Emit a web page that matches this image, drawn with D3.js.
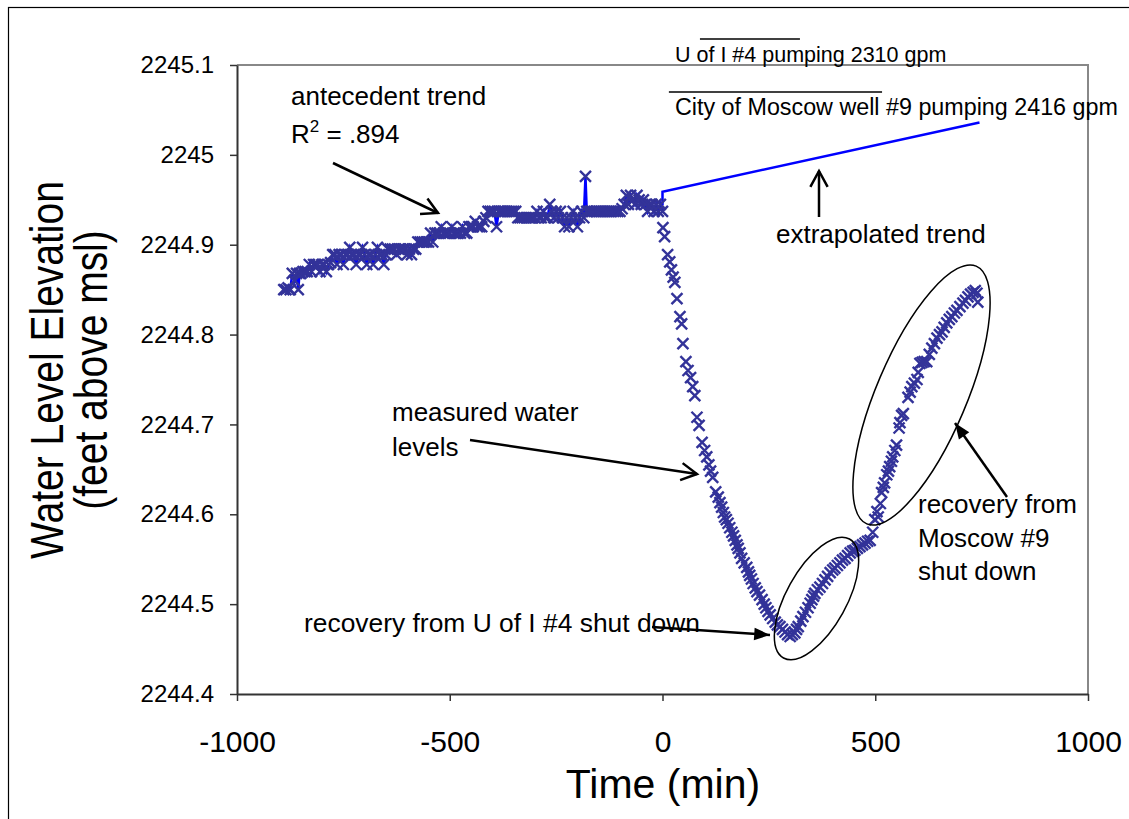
<!DOCTYPE html>
<html><head><meta charset="utf-8">
<script src="https://cdn.jsdelivr.net/npm/d3@7"></script>
<style>
body{margin:0;background:#fff}
svg{display:block}
text{font-family:"Liberation Sans",Arial,Helvetica,sans-serif;fill:#000}
</style>
</head><body>
<svg id="chart" width="1129" height="819"></svg>
<script>
// ---------- data ----------
const xTicks = [-1000, -500, 0, 500, 1000];
const xTickLabels = ["-1000", "-500", "0", "500", "1000"];
const yTicks = [2244.4, 2244.5, 2244.6, 2244.7, 2244.8, 2244.9, 2245.0, 2245.1];
const yTickLabels = ["2244.4", "2244.5", "2244.6", "2244.7", "2244.8", "2244.9", "2245", "2245.1"];

// measured water levels before pumping (time min, elevation ft) - connected by line
const antecedent = [
[-890,2244.850],[-885,2244.850],[-880,2244.852],[-875,2244.850],[-870,2244.868],[-865,2244.860],[-860,2244.868],[-856,2244.850],[-853,2244.868],[-850,2244.868],
[-845,2244.870],[-840,2244.870],[-835,2244.870],[-830,2244.878],[-825,2244.870],[-820,2244.878],[-815,2244.878],[-810,2244.878],[-805,2244.870],[-800,2244.878],
[-795,2244.878],[-790,2244.870],[-785,2244.878],[-780,2244.880],[-775,2244.889],[-770,2244.889],[-765,2244.878],[-760,2244.889],[-755,2244.889],[-750,2244.878],
[-745,2244.889],[-740,2244.889],[-735,2244.897],[-730,2244.889],[-725,2244.889],[-720,2244.878],[-715,2244.889],[-710,2244.889],[-705,2244.897],[-700,2244.889],
[-695,2244.878],[-690,2244.889],[-685,2244.889],[-680,2244.878],[-675,2244.889],[-670,2244.897],[-665,2244.889],[-660,2244.889],[-655,2244.878],[-650,2244.889],
[-645,2244.895],[-640,2244.895],[-635,2244.895],[-630,2244.895],[-625,2244.889],[-620,2244.895],[-615,2244.895],[-610,2244.895],[-605,2244.895],[-600,2244.889],
[-595,2244.895],[-590,2244.889],[-585,2244.895],[-580,2244.895],[-575,2244.903],[-570,2244.903],[-565,2244.903],[-560,2244.903],[-555,2244.903],[-550,2244.903],
[-545,2244.913],[-540,2244.903],[-535,2244.913],[-530,2244.913],[-525,2244.913],[-520,2244.920],[-515,2244.913],[-510,2244.913],[-505,2244.913],[-500,2244.913],
[-495,2244.920],[-490,2244.913],[-485,2244.913],[-480,2244.913],[-475,2244.913],[-470,2244.920],[-465,2244.913],[-460,2244.913],[-455,2244.920],[-450,2244.920],
[-445,2244.920],[-440,2244.926],[-435,2244.920],[-430,2244.920],[-425,2244.920],[-420,2244.926],[-415,2244.930],[-410,2244.937],[-405,2244.937],[-400,2244.937],
[-395,2244.937],[-390,2244.920],[-385,2244.937],[-380,2244.937],[-375,2244.937],[-370,2244.937],[-365,2244.937],[-360,2244.937],[-355,2244.937],[-350,2244.937],
[-345,2244.937],[-340,2244.930],[-335,2244.930],[-330,2244.930],[-325,2244.930],[-320,2244.930],[-315,2244.930],[-310,2244.930],[-305,2244.930],[-300,2244.930],
[-295,2244.937],[-290,2244.930],[-285,2244.930],[-280,2244.937],[-275,2244.930],[-270,2244.930],[-265,2244.945],[-260,2244.937],[-255,2244.930],[-250,2244.937],
[-245,2244.930],[-240,2244.937],[-235,2244.930],[-230,2244.920],[-225,2244.930],[-220,2244.920],[-215,2244.930],[-210,2244.937],[-205,2244.930],[-200,2244.920],
[-195,2244.930],[-190,2244.937],[-185,2244.930],[-181,2244.976],[-178,2244.937],[-175,2244.937],[-170,2244.937],[-165,2244.937],[-160,2244.937],[-155,2244.937],
[-150,2244.937],[-145,2244.937],[-140,2244.937],[-135,2244.937],[-130,2244.937],[-125,2244.937],[-120,2244.937],[-115,2244.937],[-110,2244.937],[-105,2244.937],
[-100,2244.937],[-95,2244.940],[-90,2244.945],[-85,2244.955],[-80,2244.945],[-75,2244.955],[-70,2244.950],[-65,2244.945],[-60,2244.955],[-55,2244.950],
[-50,2244.945],[-45,2244.950],[-40,2244.945],[-35,2244.937],[-30,2244.945],[-25,2244.945],[-20,2244.937],[-15,2244.945],[-10,2244.937],[-5,2244.945],[0,2244.937]
];

// measured water levels during pumping and recovery (markers only)
const pumping = [
[1,2244.919],[5,2244.909],[12,2244.889],[17,2244.881],[21,2244.872],[25,2244.864],[29,2244.858],[34,2244.840],[41,2244.820],[45,2244.812],
[48,2244.790],[55,2244.770],[60,2244.760],[66,2244.752],[71,2244.742],[76,2244.732],[81,2244.708],[86,2244.699],[93,2244.680],[99,2244.671],
[104,2244.664],[109,2244.655],[113,2244.648],[118,2244.641],[125,2244.625],[131,2244.619],[135,2244.613],[139,2244.608],[143,2244.602],[146,2244.597],
[150,2244.594],[154,2244.590],[158,2244.585],[163,2244.580],[167,2244.576],[171,2244.571],[175,2244.566],[178,2244.562],[182,2244.557],[186,2244.551],
[192,2244.546],[198,2244.541],[202,2244.536],[205,2244.532],[209,2244.528],[213,2244.523],[218,2244.518],[222,2244.514],[228,2244.510],[234,2244.505],
[239,2244.500],[243,2244.496],[248,2244.492],[253,2244.488],[259,2244.484],[265,2244.480],[270,2244.477],[276,2244.475],[282,2244.472],[288,2244.469],
[294,2244.466],[300,2244.464],[305,2244.466],[311,2244.468],[315,2244.472],[319,2244.475],[325,2244.481],[330,2244.486],[336,2244.491],[342,2244.496],
[347,2244.501],[351,2244.505],[355,2244.509],[358,2244.512],[364,2244.516],[370,2244.519],[376,2244.523],[382,2244.527],[388,2244.531],[394,2244.535],
[400,2244.538],[405,2244.540],[411,2244.543],[417,2244.546],[423,2244.549],[429,2244.551],[435,2244.554],[441,2244.557],[447,2244.559],[452,2244.560],
[458,2244.562],[464,2244.564],[470,2244.566],[476,2244.568],[482,2244.570],[488,2244.571],[494,2244.580],[499,2244.594],[504,2244.603],[507,2244.597],
[512,2244.612],[515,2244.624],[519,2244.630],[522,2244.635],[527,2244.644],[531,2244.648],[534,2244.653],[538,2244.659],[541,2244.664],[546,2244.671],
[550,2244.677],[556,2244.696],[558,2244.702],[562,2244.710],[566,2244.712],[577,2244.730],[582,2244.736],[586,2244.742],[592,2244.746],[598,2244.750],
[601,2244.758],[605,2244.768],[610,2244.769],[615,2244.770],[621,2244.770],[627,2244.778],[633,2244.785],[639,2244.790],[645,2244.796],[651,2244.800],
[657,2244.803],[662,2244.808],[668,2244.813],[674,2244.817],[680,2244.820],[686,2244.824],[692,2244.827],[699,2244.831],[706,2244.835],[712,2244.838],
[718,2244.842],[724,2244.845],[730,2244.847],[735,2244.849],[739,2244.846],[741,2244.836]
];

// extrapolated antecedent trend
const extrapolated = [[0,2244.944],[0,2244.959],[745,2245.036]];

// pumping periods (minutes) shown as over-lines above the labels
const uOfIPumping = [88, 323];
const moscowPumping = [15, 516];

// ---------- chart ----------
const svg = d3.select("#chart");
const x = d3.scaleLinear().domain([-1000, 1000]).range([237, 1088]);
const y = d3.scaleLinear().domain([2244.4, 2245.1]).range([694, 65]);

// outer frame (cropped)
svg.append("rect").attr("x", 8.5).attr("y", 7.5).attr("width", 1300).attr("height", 1000)
  .attr("fill", "none").attr("stroke", "#000").attr("stroke-width", 1.2);

// plot border top/right gray
svg.append("path")
  .attr("d", `M${x(-1000)},${y(2245.1)}H${x(1000)}V${y(2244.4)}`)
  .attr("fill", "none").attr("stroke", "#888").attr("stroke-width", 2);

// axes
const yAxis = d3.axisLeft(y).tickValues(yTicks).tickSize(7).tickSizeOuter(0).tickPadding(16)
  .tickFormat((d, i) => yTickLabels[i]);
const gy = svg.append("g").attr("transform", `translate(${x(-1000)},0)`).call(yAxis);
gy.select(".domain").attr("stroke", "#333").attr("stroke-width", 2);
gy.selectAll(".tick line").attr("stroke", "#333").attr("stroke-width", 1.5);
gy.selectAll(".tick text").attr("font-size", 24).attr("font-family", "Liberation Sans, Arial, sans-serif").attr("fill", "#000");

const xAxis = d3.axisBottom(x).tickValues(xTicks).tickSize(7).tickSizeOuter(0)
  .tickFormat((d, i) => xTickLabels[i]);
const gx = svg.append("g").attr("transform", `translate(0,${y(2244.4)})`).call(xAxis);
gx.select(".domain").attr("stroke", "#333").attr("stroke-width", 2);
gx.selectAll(".tick line").attr("stroke", "#333").attr("stroke-width", 1.5);
gx.selectAll(".tick text").attr("font-size", 30).attr("font-family", "Liberation Sans, Arial, sans-serif")
  .attr("fill", "#000").attr("dy", null).attr("y", 58);

// axis titles
svg.append("text").attr("transform", "translate(63,370) rotate(-90) scale(1,1.2)").attr("text-anchor", "middle")
  .attr("font-size", 39).text("Water Level Elevation");
svg.append("text").attr("transform", "translate(107,370) rotate(-90) scale(1,1.2)").attr("text-anchor", "middle")
  .attr("font-size", 39).text("(feet above msl)");
svg.append("text").attr("x", 663).attr("y", 798).attr("text-anchor", "middle")
  .attr("font-size", 41).text("Time (min)");

// antecedent line
const line = d3.line().x(d => x(d[0])).y(d => y(d[1]));
svg.append("path").datum(antecedent).attr("d", line).attr("fill", "none")
  .attr("stroke", "#0000ff").attr("stroke-width", 2.5);
svg.append("path").datum(extrapolated).attr("d", line).attr("fill", "none")
  .attr("stroke", "#0000ff").attr("stroke-width", 2.5);

// markers
const xMark = "M-5.5,-5.5L5.5,5.5M-5.5,5.5L5.5,-5.5";
svg.append("g").selectAll("path").data(antecedent.concat(pumping)).join("path")
  .attr("transform", d => `translate(${x(d[0])},${y(d[1])})`)
  .attr("d", xMark).attr("stroke", "#333399").attr("stroke-width", 2.4).attr("fill", "none");

// annotations
const ann = svg.append("g");
function label(tx, ty, str, size) {
  return ann.append("text").attr("x", tx).attr("y", ty).attr("font-size", size).text(str);
}
label(291, 105, "antecedent trend", 26);
const r2 = label(291, 143, "R", 26);
r2.append("tspan").attr("dy", -11).attr("font-size", 17).text("2");
r2.append("tspan").attr("dy", 11).text(" = .894");
label(776, 243, "extrapolated trend", 26);
label(392, 421, "measured water", 26);
label(392, 456, "levels", 26);
label(304, 632, "recovery from U of I #4 shut down", 26.4);
label(918, 513, "recovery from", 26);
label(918, 547, "Moscow #9", 26);
label(918, 580, "shut down", 26);
label(675, 62, "U of I #4 pumping 2310 gpm", 21.5);
label(675, 115, "City of Moscow well #9 pumping 2416 gpm", 23.3);

// pumping over-lines
ann.append("line").attr("x1", x(uOfIPumping[0])).attr("x2", x(uOfIPumping[1])).attr("y1", 39).attr("y2", 39)
  .attr("stroke", "#000").attr("stroke-width", 1.5);
ann.append("line").attr("x1", x(moscowPumping[0])).attr("x2", x(moscowPumping[1])).attr("y1", 92).attr("y2", 92)
  .attr("stroke", "#000").attr("stroke-width", 1.5);

// arrows
function arrow(x1, y1, x2, y2, filled) {
  const ang = Math.atan2(y2 - y1, x2 - x1);
  ann.append("line").attr("x1", x1).attr("y1", y1).attr("x2", x2).attr("y2", y2)
    .attr("stroke", "#000").attr("stroke-width", 2.5);
  const L = filled ? 17 : 18, w = filled ? 0.38 : 0.5;
  const p1 = [x2 - L * Math.cos(ang - w), y2 - L * Math.sin(ang - w)];
  const p2 = [x2 - L * Math.cos(ang + w), y2 - L * Math.sin(ang + w)];
  if (filled) {
    ann.append("path").attr("d", `M${x2},${y2}L${p1}L${p2}Z`).attr("fill", "#000");
  } else {
    ann.append("path").attr("d", `M${p1}L${x2},${y2}L${p2}`).attr("fill", "none")
      .attr("stroke", "#000").attr("stroke-width", 2.5);
  }
}
arrow(333, 163, 438, 213, false);
arrow(819, 217, 819, 171, false);
arrow(470, 440, 697, 474, false);
arrow(652, 627, 770, 635, true);
arrow(1007, 497, 955, 423, true);

// ellipses
ann.append("ellipse").attr("cx", 816.5).attr("cy", 598.5).attr("rx", 68).attr("ry", 30)
  .attr("transform", "rotate(-61 816.5 598.5)").attr("fill", "none").attr("stroke", "#000").attr("stroke-width", 1.5);
ann.append("ellipse").attr("cx", 921.5).attr("cy", 395).attr("rx", 140).attr("ry", 45)
  .attr("transform", "rotate(-67 921.5 395)").attr("fill", "none").attr("stroke", "#000").attr("stroke-width", 1.5);
</script>
</body></html>
